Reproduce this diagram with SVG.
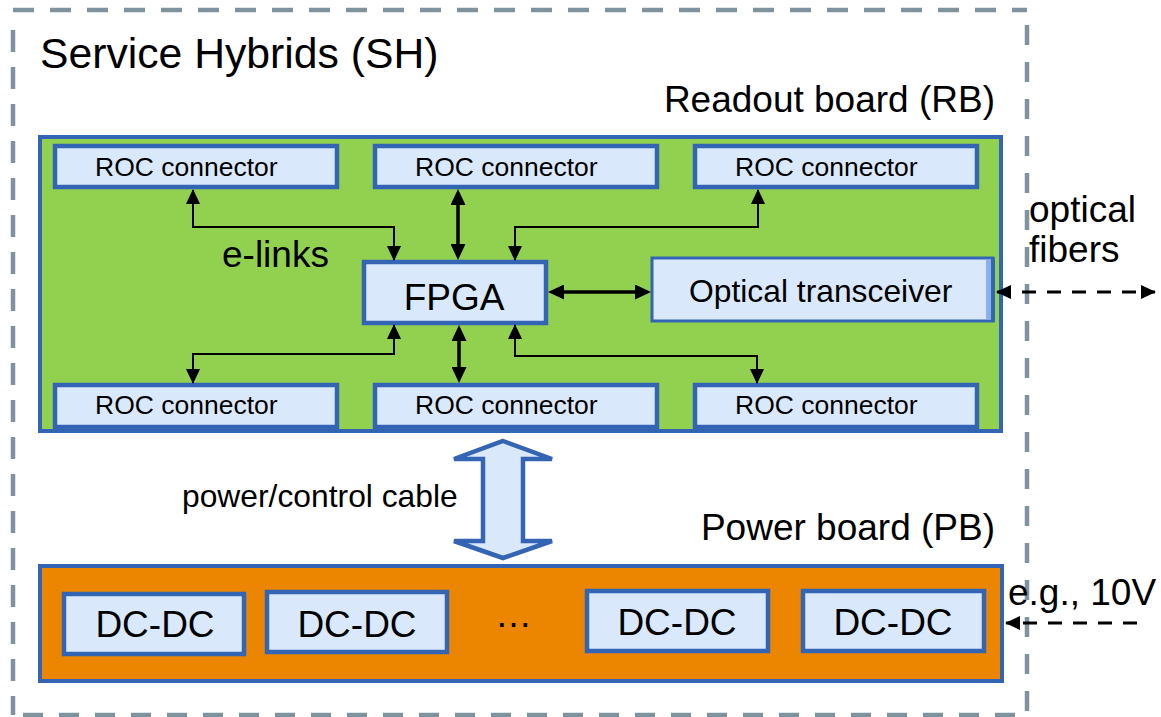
<svg xmlns="http://www.w3.org/2000/svg" width="1161" height="717" viewBox="0 0 1161 717">
  <style>
    text { font-family: "Liberation Sans", Arial, Helvetica, sans-serif; fill: #000; }
    .board { stroke: #3464b4; stroke-width: 4; }
    .box { fill: #dae8fc; stroke: #3464b4; stroke-width: 4.5; }
    .frame { fill: none; stroke: #7f939e; stroke-width: 4.5; }
    .thin { fill: none; stroke: #000; stroke-width: 2; }
    .thick { fill: none; stroke: #000; stroke-width: 3.5; }
    .dash { fill: none; stroke: #000; stroke-width: 3; stroke-dasharray: 14 11; }
    .roc { font-size: 26.5px; }
    .lbl { font-size: 37px; }
  </style>
  <defs>
    <marker id="ah" viewBox="0 0 15 14" refX="14" refY="7" markerWidth="15" markerHeight="14" markerUnits="userSpaceOnUse" orient="auto-start-reverse">
      <path d="M0,0 L15,7 L0,14 Z" fill="#000"/>
    </marker>
    <marker id="ahb" viewBox="0 0 16 15" refX="12" refY="7.5" markerWidth="16" markerHeight="15" markerUnits="userSpaceOnUse" orient="auto-start-reverse">
      <path d="M0,0 L16,7.5 L0,15 Z" fill="#000"/>
    </marker>
  </defs>

  <!-- Service hybrid outline (dashed) -->
  <g id="service-hybrids">
    <path class="frame" d="M13,10 H1027" stroke-dasharray="21 16"/>
    <path class="frame" d="M13,30 V715" stroke-dasharray="22 15"/>
    <path class="frame" d="M1027,10 V715" stroke-dasharray="20 17" stroke-dashoffset="-15"/>
    <path class="frame" d="M13,715 H1027" stroke-dasharray="20 16" stroke-dashoffset="-10"/>
    <text x="40" y="68" font-size="42.7">Service Hybrids (SH)</text>
  </g>

  <!-- Readout board -->
  <g id="readout-board">
    <rect class="board" x="40" y="137" width="961" height="294" fill="#92d050"/>
    <text class="lbl" x="995" y="112" text-anchor="end">Readout board (RB)</text>
    <text class="lbl" x="222" y="267">e-links</text>
  </g>

  <g id="roc-top-left">
    <rect class="box" x="55" y="146" width="282" height="41"/>
    <text class="roc" x="95" y="176">ROC connector</text>
  </g>
  <g id="roc-top-mid">
    <rect class="box" x="375" y="146" width="282" height="41"/>
    <text class="roc" x="415" y="176">ROC connector</text>
  </g>
  <g id="roc-top-right">
    <rect class="box" x="695" y="146" width="282" height="41"/>
    <text class="roc" x="735" y="176">ROC connector</text>
  </g>
  <g id="roc-bottom-left">
    <rect class="box" x="55" y="385" width="282" height="42"/>
    <text class="roc" x="95" y="414">ROC connector</text>
  </g>
  <g id="roc-bottom-mid">
    <rect class="box" x="375" y="385" width="282" height="42"/>
    <text class="roc" x="415" y="414">ROC connector</text>
  </g>
  <g id="roc-bottom-right">
    <rect class="box" x="695" y="385" width="282" height="42"/>
    <text class="roc" x="735" y="414">ROC connector</text>
  </g>

  <g id="fpga">
    <rect class="box" x="364" y="262" width="182" height="61"/>
    <text class="lbl" x="454" y="310" text-anchor="middle">FPGA</text>
  </g>

  <g id="optical-transceiver">
    <rect x="652" y="258" width="341" height="63" fill="#dae8fc" stroke="#3464b4" stroke-width="3"/>
    <rect x="986" y="260" width="5" height="59" fill="#8cb0ea"/>
    <rect x="991" y="258" width="4" height="64" fill="#3464b4"/>
    <text x="689" y="302" font-size="31.8">Optical transceiver</text>
  </g>

  <!-- Power board -->
  <g id="power-board">
    <rect class="board" x="40" y="566" width="962" height="115" fill="#ec8600"/>
    <text class="lbl" x="995" y="540" text-anchor="end">Power board (PB)</text>
    <text class="lbl" x="495" y="627">…</text>
  </g>
  <g id="dcdc-1">
    <rect class="box" x="64" y="594" width="180" height="60"/>
    <text class="lbl" x="155" y="637" text-anchor="middle">DC-DC</text>
  </g>
  <g id="dcdc-2">
    <rect class="box" x="267" y="592" width="180" height="60"/>
    <text class="lbl" x="357" y="637" text-anchor="middle">DC-DC</text>
  </g>
  <g id="dcdc-3">
    <rect class="box" x="587" y="591" width="181" height="60"/>
    <text class="lbl" x="677" y="635" text-anchor="middle">DC-DC</text>
  </g>
  <g id="dcdc-4">
    <rect class="box" x="803" y="591" width="181" height="60"/>
    <text class="lbl" x="893" y="635" text-anchor="middle">DC-DC</text>
  </g>

  <!-- Power/control cable -->
  <g id="cable">
    <polygon points="503,441 552,459 523,459 523,541 552,541 503,558 454,541 483,541 483,459 454,459" fill="#dae8fc" stroke="#3464b4" stroke-width="4.5" stroke-linejoin="miter"/>
    <text x="182" y="507" font-size="31.8">power/control cable</text>
  </g>

  <!-- External labels -->
  <g id="ext-labels">
    <text class="lbl" x="1029" y="222">optical</text>
    <text class="lbl" x="1029" y="262">fibers</text>
    <text class="lbl" x="1008" y="605">e.g., 10V</text>
  </g>

  <!-- Connectors -->
  <g id="connectors">
    <path class="thin" d="M193,190 V227 H394 V260" marker-start="url(#ah)" marker-end="url(#ah)"/>
    <path class="thin" d="M758,190 V227 H515 V260" marker-start="url(#ah)" marker-end="url(#ah)"/>
    <path class="thin" d="M394,325 V354 H193 V383" marker-start="url(#ah)" marker-end="url(#ah)"/>
    <path class="thin" d="M515,325 V356 H757 V383" marker-start="url(#ah)" marker-end="url(#ah)"/>
    <path class="thick" d="M458,193 V256" marker-start="url(#ahb)" marker-end="url(#ahb)"/>
    <path class="thick" d="M459,329 V379" marker-start="url(#ahb)" marker-end="url(#ahb)"/>
    <path class="thick" d="M552,292 H647" marker-start="url(#ahb)" marker-end="url(#ahb)"/>
    <path class="dash" d="M997,292 H1155" marker-start="url(#ah)" marker-end="url(#ah)"/>
    <path class="dash" d="M1137,623 H1006" marker-end="url(#ah)"/>
  </g>
</svg>
